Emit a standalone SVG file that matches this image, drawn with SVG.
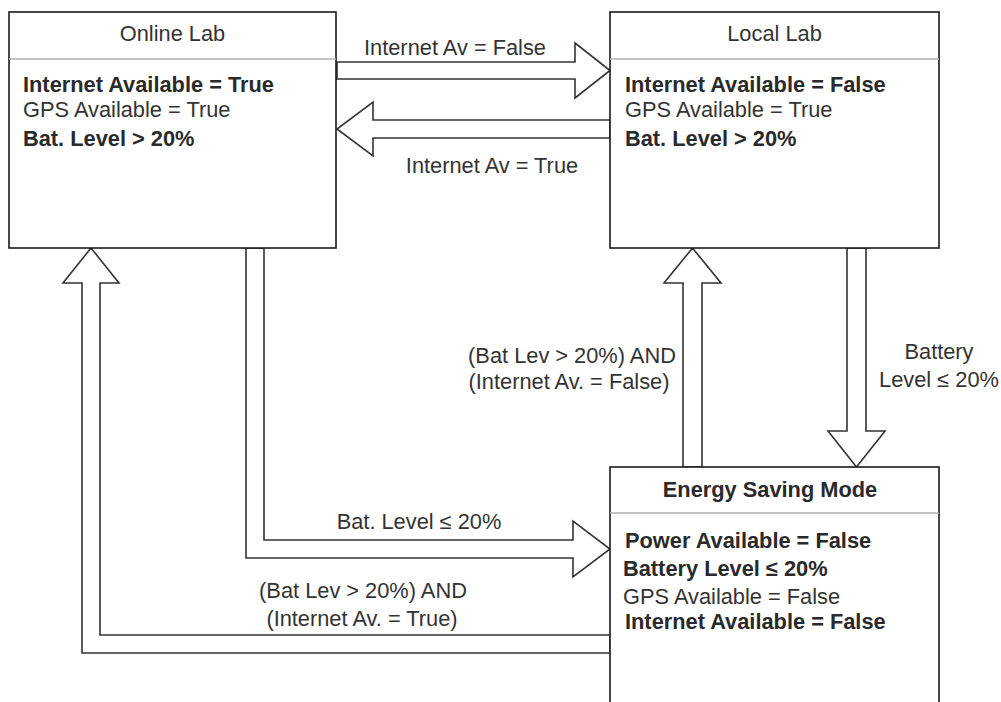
<svg xmlns="http://www.w3.org/2000/svg" width="1001" height="702" viewBox="0 0 1001 702">
<style>
  .box { fill: #ffffff; stroke: #1a1a1a; stroke-width: 1.6; }
  .sep { stroke: #b0b0b0; stroke-width: 1.5; }
  .arrow { fill: #ffffff; stroke: #333333; stroke-width: 1.6; stroke-linejoin: miter; }
  text { font-family: "Liberation Sans", Arial, sans-serif; font-size: 21.8px; fill: #333333; }
  .b { font-weight: bold; fill: #2a2a2a; }
  .c { text-anchor: middle; }
</style>
<rect width="1001" height="702" fill="#ffffff"/>

<g id="connectors">
  <path class="arrow" d="M337,62 L575,62 L575,43 L610,70.5 L575,98 L575,79 L337,79 Z"/>
  <path class="arrow" d="M610,120 L373,120 L373,102 L337,129 L373,156 L373,138 L610,138 Z"/>
  <path class="arrow" d="M847,248 L847,431 L828,431 L856.5,467 L885,431 L866,431 L866,248 Z"/>
  <path class="arrow" d="M683,467 L683,283 L664,283 L692.5,248 L721,283 L702,283 L702,467 Z"/>
  <path class="arrow" d="M246,248 L246,558 L573,558 L573,577 L610,549 L573,521 L573,540 L264,540 L264,248 Z"/>
  <path class="arrow" d="M610,635 L100,635 L100,283 L119,283 L91,248 L63,283 L82,283 L82,653 L610,653 Z"/>
  <text class="c" x="455" y="55">Internet Av = False</text>
  <text class="c" x="492" y="173">Internet Av = True</text>
  <text class="c" x="572" y="363">(Bat Lev &gt; 20%) AND</text>
  <text class="c" x="569" y="389">(Internet Av. = False)</text>
  <text class="c" x="939" y="359">Battery</text>
  <text class="c" x="939" y="387">Level ≤ 20%</text>
  <text class="c" x="419" y="529">Bat. Level ≤ 20%</text>
  <text class="c" x="363" y="598">(Bat Lev &gt; 20%) AND</text>
  <text class="c" x="362" y="626">(Internet Av. = True)</text>
</g>

<g id="online-lab">
  <rect class="box" x="9" y="12" width="327" height="236"/>
  <line class="sep" x1="9" y1="59" x2="336" y2="59"/>
  <text class="c" x="172.5" y="41">Online Lab</text>
  <text class="b" x="23" y="92">Internet Available = True</text>
  <text x="23" y="117">GPS Available = True</text>
  <text class="b" x="23" y="146">Bat. Level &gt; 20%</text>
</g>

<g id="local-lab">
  <rect class="box" x="610" y="12" width="329" height="236"/>
  <line class="sep" x1="610" y1="59" x2="939" y2="59"/>
  <text class="c" x="774.5" y="41">Local Lab</text>
  <text class="b" x="625" y="92">Internet Available = False</text>
  <text x="625" y="117">GPS Available = True</text>
  <text class="b" x="625" y="146">Bat. Level &gt; 20%</text>
</g>

<g id="energy-saving-mode">
  <rect class="box" x="610" y="467" width="329" height="260"/>
  <line class="sep" x1="610" y1="513" x2="939" y2="513"/>
  <text class="c b" x="770" y="497">Energy Saving Mode</text>
  <text class="b" x="625" y="548">Power Available = False</text>
  <text class="b" x="623" y="576">Battery Level ≤ 20%</text>
  <text x="623" y="604">GPS Available = False</text>
  <text class="b" x="625" y="629">Internet Available = False</text>
</g>
</svg>
